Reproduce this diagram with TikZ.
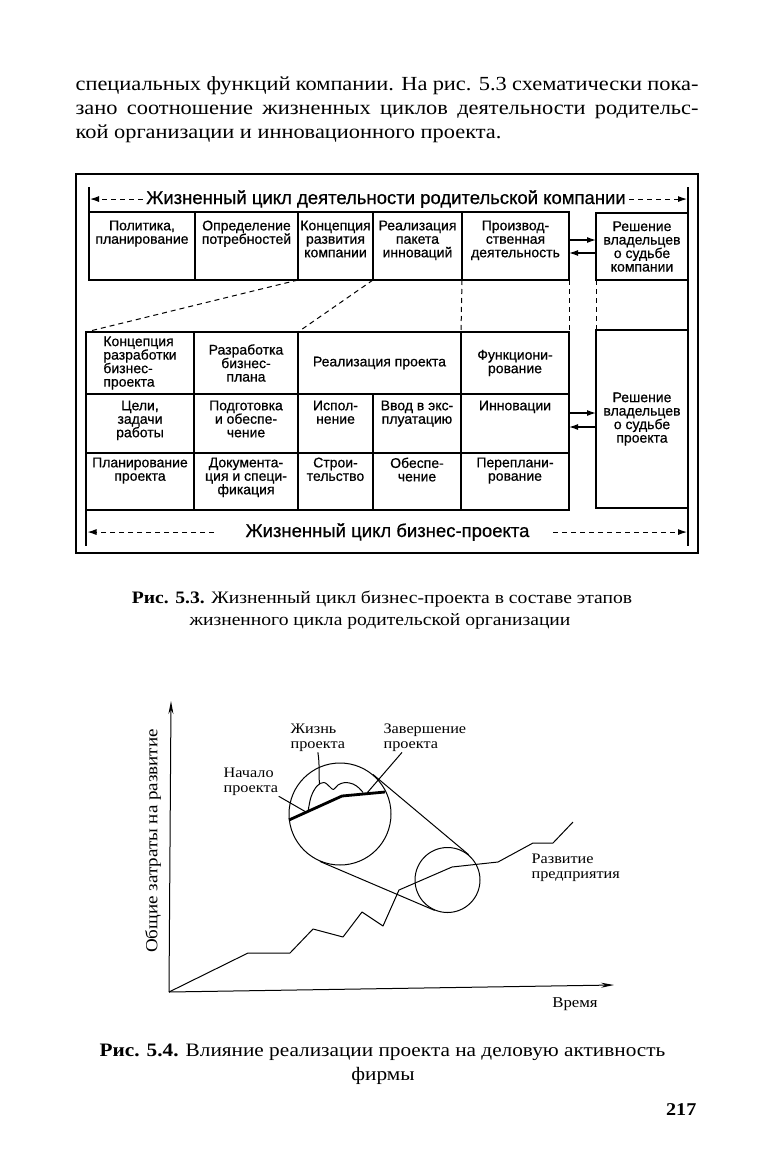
\documentclass[tikz,border=0pt]{standalone}
\usepackage{fontspec}
\setmainfont{Liberation Serif}[FakeStretch=1.12]
\newfontfamily\dsans{Liberation Sans}[FakeBold=0.6]
\usetikzlibrary{arrows.meta}
\newcommand\mytcell[7]{%
  \node[cell,minimum width=#4pt,minimum height=#5pt] (#1) at (#2,#3) {};
  \node[ct,anchor=north] (#1t) at ([yshift=-#6pt]#1.north) {#7};}
\newcommand\myccell[6]{%
  \node[cell,minimum width=#4pt,minimum height=#5pt] (#1) at (#2,#3) {};
  \node[ct] (#1t) at (#1.center) {#6};}
\begin{document}
\begin{tikzpicture}[x=1pt,y=-1pt,line width=1.2pt,
  cell/.style={draw,inner sep=0pt,outer sep=0pt,anchor=north west},
  ct/.style={inner sep=0pt,align=center,font=\dsans\fontsize{14}{13.5}\selectfont},
  hd/.style={inner sep=0pt,anchor=base,font=\dsans\fontsize{18.5}{20}\selectfont},
  dsh/.style={dash pattern=on 5pt off 4pt,line width=1pt},
  arr/.style={-{Latex[length=9pt,width=6pt]}},
  axarr/.style={-{Stealth[length=13pt,width=5pt]}},
  body/.style={inner sep=0pt,anchor=base west,font=\fontsize{20}{24}\selectfont},
  capt/.style={inner sep=0pt,anchor=base,font=\fontsize{17.5}{20}\selectfont},
  lbl/.style={inner sep=0pt,align=left,anchor=north west,font=\fontsize{14.5}{15.5}\selectfont},
  ln/.style={line width=1pt,line join=round}
]
\useasboundingbox (0,0) rectangle (772,1172);
\fill[white] (0,0) rectangle (772,1172);

% paragraph
\node[body] (p1) at (75,90) {\makebox[623pt][s]{специальных функций компании. На рис. 5.3 схематически пока-}};
\node[body] (p2) at (75,114) {\makebox[623pt][s]{зано соотношение жизненных циклов деятельности родительс-}};
\node[body] (p3) at (75,138) {кой организации и инновационного проекта.};

% frame
\draw (76,174) rectangle (698,553);

% header 1
\node[hd] (h1) at (386,204) {Жизненный цикл деятельности родительской компании};
\coordinate (hLbar) at (90,200);
\coordinate (hRbar) at (687,200);
\coordinate (bLbar) at (87.5,0);
\draw (89,187) -- (89,212);
\draw (688,187) -- (688,546);
\draw[dsh,arr] ([xshift=-3pt]h1.west) -- (h1.west -| hLbar);
\draw[dsh,arr] ([xshift=3pt]h1.east) -- (h1.east -| hRbar);

% top table
\mytcell{tA1}{89}{212}{106}{68}{8}{Политика,\\планирование}
\mytcell{tA2}{195}{212}{103}{68}{8}{Определение\\потребностей}
\mytcell{tA3}{298}{212}{75}{68}{8}{Концепция\\развития\\компании}
\mytcell{tA4}{373}{212}{89}{68}{8}{Реализация\\пакета\\инноваций}
\mytcell{tA5}{462}{212}{107}{68}{8}{Производ-\\ственная\\деятельность}
\myccell{tR}{596}{213}{92}{67}{Решение\\владельцев\\о судьбе\\компании}
\draw[arr] ([yshift=6pt]tA5.east) -- ([yshift=6pt]tA5.east -| tR.west);
\draw[arr] ([yshift=-7pt]tA5.east -| tR.west) -- ([yshift=-7pt]tA5.east);

% lower table
\node[cell,minimum width=108pt,minimum height=62pt] (L1) at (86,332) {};
\node[ct,align=left] (L1t) at (L1.center) {Концепция\\разработки\\бизнес-\\проекта};
\myccell{L2}{194}{332}{104}{62}{Разработка\\бизнес-\\плана}
\myccell{L3}{298}{332}{163}{62}{Реализация проекта}
\myccell{L4}{461}{332}{108}{62}{Функциони-\\рование}
\mytcell{M1}{86}{394}{108}{59}{6}{Цели,\\задачи\\работы}
\mytcell{M2}{194}{394}{104}{59}{6}{Подготовка\\и обеспе-\\чение}
\mytcell{M3}{298}{394}{75}{59}{6}{Испол-\\нение}
\mytcell{M4}{373}{394}{88}{59}{6}{Ввод в экс-\\плуатацию}
\mytcell{M5}{461}{394}{108}{59}{6}{Инновации}
\mytcell{N1}{86}{453}{108}{57}{4}{Планирование\\проекта}
\mytcell{N2}{194}{453}{104}{57}{4}{Документа-\\ция и специ-\\фикация}
\mytcell{N3}{298}{453}{75}{57}{4}{Строи-\\тельство}
\mytcell{N4}{373}{453}{88}{57}{4}{Обеспе-\\чение}
\mytcell{N5}{461}{453}{108}{57}{4}{Переплани-\\рование}
\myccell{R2}{596}{330}{92}{178}{Решение\\владельцев\\о судьбе\\проекта}
\draw[arr] ([yshift=10.5pt]M5.east) -- ([yshift=10.5pt]M5.east -| R2.west);
\draw[arr] ([yshift=-3.5pt]M5.east -| R2.west) -- ([yshift=-3.5pt]M5.east);

% dashed links
\draw[dsh] (tA2.south east) -- (L1.north west);
\draw[dsh] (tA3.south east) -- (L3.north west);
\draw[dsh] (tA5.south west) -- (L4.north west);
\draw[dsh] (tA5.south east) -- (L4.north east);
\draw[dsh] (tR.south west) -- (R2.north west);

% bottom header
\draw (86,510) -- (86,546);
\node[hd] (h2) at (387.5,537) {Жизненный цикл бизнес-проекта};
\coordinate (bL) at (214,0);
\coordinate (bR) at (553,0);
\draw[dsh,arr] (h2.west -| bL) -- (h2.west -| bLbar);
\draw[dsh,arr] (h2.east -| bR) -- (h2.east -| hRbar);

% caption 5.3
\node[capt] (c31) at (382,603) {\textbf{Рис. 5.3.} Жизненный цикл бизнес-проекта в составе этапов};
\node[capt] (c32) at (380,625) {жизненного цикла родительской организации};

% figure 5.4
\coordinate (O) at (169,992);
\coordinate (Ytop) at (171,701);
\coordinate (Xend) at (614,985);
\draw[ln,axarr] (O) -- (Ytop);
\draw[ln,axarr] (O) -- (Xend);
\node[rotate=90,inner sep=0pt,font=\fontsize{17}{17}\selectfont] (ylab) at (153,841) {Общие затраты на развитие};
\node[inner sep=0pt,anchor=base,font=\fontsize{15}{15}\selectfont] (timeL) at (575,1007) {Время};

\draw[ln] (O) -- (248,953) -- (290,953) -- (313,929) -- (343,937) -- (362,912) -- (383,926) -- (399,890) -- (452,867) -- (498,862) -- (533,843) -- (553,843) -- (573,822);

\node[draw,ln,circle,minimum size=102pt,inner sep=0pt] (C1) at (340,814) {};
\node[draw,ln,circle,minimum size=65pt,inner sep=0pt] (C2) at (447.5,880) {};
\draw[ln] (C1.50) -- (C2.50);
\draw[ln] (C1.-113) -- (C2.-113);

\draw[line width=2.8pt,line join=round] (289,820) -- (342,796) -- (385,792);
\draw[ln] plot[smooth,tension=0.6] coordinates {(308,812) (311,797) (317,786) (324,782.5) (330,787) (333.5,789.5) (338,785) (345,782.5) (353,784) (359,788) (363,792.5)};

\node[lbl] (lifeL) at (290,723) {Жизнь\\проекта};
\node[lbl] (endL) at (383,723) {Завершение\\проекта};
\node[lbl] (startL) at (223,767) {Начало\\проекта};
\node[lbl] (devL) at (531,853) {Развитие\\предприятия};

\coordinate (w1) at (319.5,784);
\coordinate (e1) at (367,793);
\coordinate (s1) at (306,812);
\draw[ln] (lifeL.south) .. controls +(2,12) and +(-1,-12) .. (w1);
\draw[ln] ([xshift=19pt]endL.south west) -- (e1);
\draw[ln] (startL.south east) -- (s1);

% caption 5.4
\node[capt,font=\fontsize{19}{20}\selectfont] (c41) at (382.5,1056) {\textbf{Рис. 5.4.} Влияние реализации проекта на деловую активность};
\node[capt,font=\fontsize{19}{20}\selectfont] (c42) at (383,1080) {фирмы};
\node[inner sep=0pt,anchor=base east,font=\bfseries\fontsize{18}{18}\selectfont] (pg) at (697,1115) {217};
\end{tikzpicture}
\end{document}
